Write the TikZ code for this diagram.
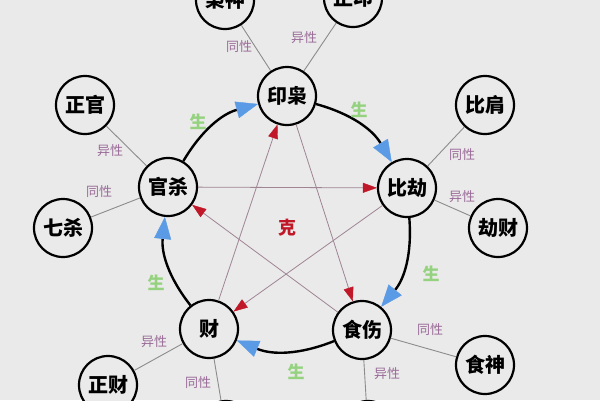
\documentclass[tikz,border=0pt]{standalone}
\usepackage{fontspec}
\newfontfamily\cjk{Noto Sans CJK SC}
\usetikzlibrary{arrows.meta}
\definecolor{bgc}{HTML}{EAEAEA}
\definecolor{shengblue}{HTML}{5B9BE6}
\definecolor{shenggreen}{HTML}{95D27F}
\definecolor{kered}{HTML}{C01828}
\definecolor{keline}{HTML}{A08494}
\definecolor{xingc}{HTML}{9A6A98}
\definecolor{linkc}{HTML}{8C8C8C}

\begin{document}
\begin{tikzpicture}[x=1pt,y=-1pt,
	shen/.style={circle, draw, line width=2.2pt, fill=bgc, minimum size=58pt, inner sep=0pt,
		font=\cjk\bfseries\fontsize{20}{20}\selectfont},
	sheng/.style={line width=2.4pt, bend left=22,
		-{Triangle[length=22pt,width=17pt,color=shengblue,fill=shengblue,line width=0.4pt]}},
	ke/.style={draw=keline, line width=0.8pt,
		-{Triangle[length=14pt,width=10pt,color=kered,fill=kered,line width=0.4pt]}},
	link/.style={draw=linkc, line width=0.9pt},
	xing/.style={text=xingc, font=\cjk\fontsize{13}{14}\selectfont},
	shenglbl/.style={text=shenggreen, font=\cjk\bfseries\fontsize{17}{18}\selectfont}]
\useasboundingbox (0,0) rectangle (600,400);
\fill[bgc] (0,0) rectangle (600,400);
\clip (0,0) rectangle (600,400);

% five main groups
\node[shen] (yin) at (287,96) {印枭};
\node[shen] (bi) at (407,188) {比劫};
\node[shen] (shi) at (362,330) {食伤};
\node[shen] (cai) at (209,329) {财};
\node[shen] (guan) at (168,187) {官杀};

% the ten gods
\node[shen] (xiao) at (225,0) {枭神};
\node[shen] (zyin) at (353,-2) {正印};
\node[shen] (zguan) at (85,105) {正官};
\node[shen] (qisha) at (63,228) {七杀};
\node[shen] (bijian) at (485,105) {比肩};
\node[shen] (jiecai) at (498,228) {劫财};
\node[shen] (shishen) at (485,365) {食神};
\node[shen] (zcai) at (108,385) {正财};
\node[shen] (pcai) at (226,430) {};
\node[shen] (shangg) at (368,430) {};

\path[link]
(yin) edge (xiao) edge (zyin)
(guan) edge (zguan) edge (qisha)
(bi) edge (bijian) edge (jiecai)
(shi) edge (shishen) edge (shangg)
(cai) edge (zcai) edge (pcai);

\node[xing] (l1) at (239,47) {同性};
\node[xing] (l2) at (304,38) {异性};
\node[xing] (l3) at (110,151) {异性};
\node[xing] (l4) at (99,192) {同性};
\node[xing] (l5) at (462,155) {同性};
\node[xing] (l6) at (462,197) {异性};
\node[xing] (l7) at (430,330) {同性};
\node[xing] (l8) at (387,374) {异性};
\node[xing] (l9) at (154,342) {异性};
\node[xing] (l10) at (198,383) {同性};

% sheng cycle
\draw[sheng] (guan) to (yin);
\draw[sheng] (yin) to (bi);
\draw[sheng] (bi) to (shi);
\draw[sheng] (shi) to (cai);
\draw[sheng] (cai) to (guan);

\node[shenglbl] (s1) at (198,122) {生};
\node[shenglbl] (s2) at (359,110) {生};
\node[shenglbl] (s3) at (431,274) {生};
\node[shenglbl] (s4) at (296,372) {生};
\node[shenglbl] (s5) at (156,283) {生};

% ke star
\draw[ke] (yin) -- (shi);
\draw[ke] (shi) -- (guan);
\draw[ke] (guan) -- (bi);
\draw[ke] (bi) -- (cai);
\draw[ke] (cai) -- (yin);
\node[text=kered, font=\cjk\bfseries\fontsize{18}{18}\selectfont] (ke) at (287,228) {克};
\end{tikzpicture}
\end{document}
